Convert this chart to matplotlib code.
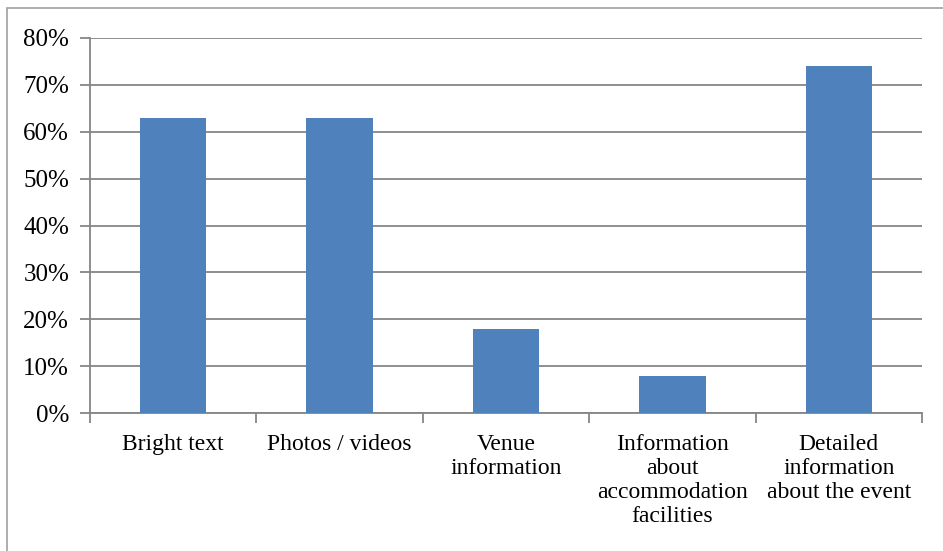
import matplotlib
matplotlib.use("Agg")
import matplotlib.pyplot as plt
from matplotlib.patches import Rectangle
from matplotlib.ticker import FixedLocator, FuncFormatter

categories = ["Bright text", "Photos / videos", "Venue\ninformation",
              "Information\nabout\naccommodation\nfacilities",
              "Detailed\ninformation\nabout the event"]
values = [0.63, 0.63, 0.18, 0.08, 0.74]
yticks = [0.0, 0.1, 0.2, 0.3, 0.4, 0.5, 0.6, 0.7, 0.8]

plt.rcParams['font.family'] = ['Liberation Serif', 'DejaVu Serif']

W, H = 943, 551
fig = plt.figure(figsize=(W / 100, H / 100), dpi=100)
ax = fig.add_axes([90 / W, 1 - 413 / H, (922 - 90) / W, (413 - 38) / H])

gray = "#868686"
x = list(range(len(categories)))
ax.bar(x, values, width=0.4, color="#4F81BD", zorder=3)
ax.set_xlim(-0.5, len(categories) - 0.5)
ax.set_ylim(0, 0.8)

ax.set_yticks(yticks)
ax.yaxis.set_major_formatter(FuncFormatter(lambda v, p: f"{round(v * 100)}%"))
ax.grid(axis="y", color=gray, linewidth=1.3, zorder=0)
ax.set_axisbelow(True)

ax.set_xticks(x)
ax.set_xticklabels(categories, fontsize=17, linespacing=1.2)
ax.tick_params(axis="x", which="major", length=0, pad=15)
ax.xaxis.set_minor_locator(FixedLocator([i - 0.5 for i in range(len(categories) + 1)]))
ax.tick_params(axis="x", which="minor", length=7, color=gray, width=1.3, direction="out")
ax.tick_params(axis="y", length=7, color=gray, width=1.3, labelsize=18, pad=8)

for s in ["top", "right"]:
    ax.spines[s].set_visible(False)
for s in ["left", "bottom"]:
    ax.spines[s].set_color(gray)
    ax.spines[s].set_linewidth(1.3)

fig.patches.append(Rectangle((7 / W, -0.1), 1.2, 1 - 8 / H + 0.1, transform=fig.transFigure,
                             fill=False, edgecolor="#A0A0A0", linewidth=1.2))

fig.savefig("out.png", dpi=100)
